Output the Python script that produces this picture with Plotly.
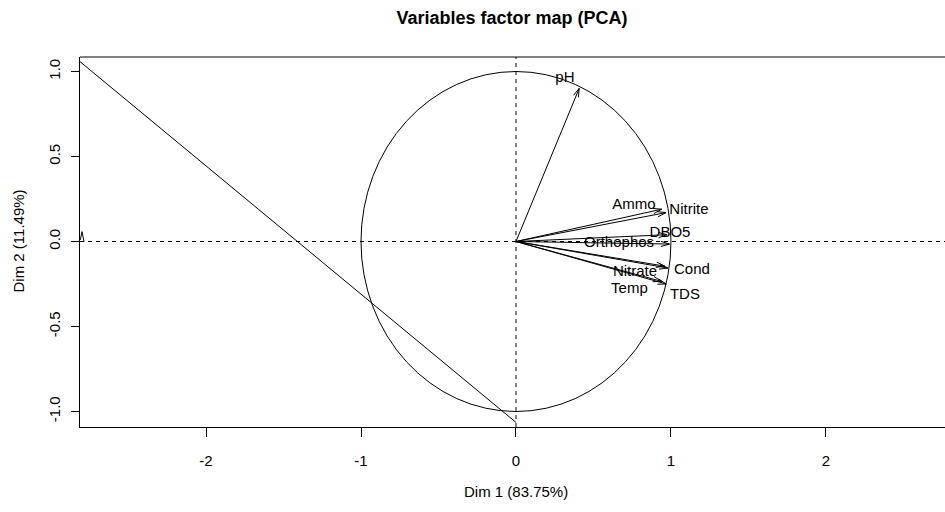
import numpy as np
import plotly.graph_objects as go

# ---- data ----
variables = ["pH", "Ammo", "Nitrite", "DBO5", "Orthophos", "Nitrate", "Cond", "Temp", "TDS"]
dim1 = [0.408, 0.940, 0.968, 0.975, 0.990, 0.960, 0.980, 0.940, 0.970]
dim2 = [0.901, 0.190, 0.170, 0.040, -0.015, -0.145, -0.156, -0.235, -0.250]
label_x = [0.316, 0.761, 1.116, 0.994, 0.665, 0.768, 1.135, 0.732, 1.090]
label_y = [0.962, 0.215, 0.181, 0.048, -0.010, -0.183, -0.168, -0.281, -0.315]
diag_x = [-2.813, 0.0]
diag_y = [1.058, -1.064]
caret_x = [-2.811, -2.800, -2.787]
caret_y = [0.009, 0.058, -0.001]
x_ticks = [-2, -1, 0, 1, 2]
y_ticks = [-1.0, -0.5, 0.0, 0.5, 1.0]
y_tick_text = ["-1.0", "-0.5", "0.0", "0.5", "1.0"]

x_range = [-2.813, 2.768]
y_range = [-1.0912, 1.0853]

W, H = 945, 512
ml, mr, mt, mb = 80, 0, 57, 85
px_x = (W - ml - mr) / (x_range[1] - x_range[0])
px_y = (H - mt - mb) / (y_range[1] - y_range[0])

FONT = "Liberation Sans, Arial, sans-serif"
fig = go.Figure()

# diagonal artefact line and small caret
fig.add_trace(go.Scatter(x=diag_x, y=diag_y, mode="lines",
                         line=dict(color="black", width=1), hoverinfo="skip"))
fig.add_trace(go.Scatter(x=caret_x, y=caret_y, mode="lines",
                         line=dict(color="black", width=1), hoverinfo="skip"))

# arrows: shafts and open heads
hl, ang = 9.0, np.deg2rad(17)
ax_all, ay_all = [], []
for x, y in zip(dim1, dim2):
    ax_all += [0, x, None]
    ay_all += [0, y, None]
    dx, dy = x * px_x, y * px_y
    L = np.hypot(dx, dy)
    ux, uy = dx / L, dy / L
    for s in (1, -1):
        c, sn = np.cos(s * ang), np.sin(s * ang)
        rx = ux * c - uy * sn
        ry = ux * sn + uy * c
        hx = x - rx * hl / px_x
        hy = y - ry * hl / px_y
        ax_all += [x, hx, None]
        ay_all += [y, hy, None]
fig.add_trace(go.Scatter(x=ax_all, y=ay_all, mode="lines",
                         line=dict(color="black", width=1), hoverinfo="skip"))

# labels
fig.add_trace(go.Scatter(x=label_x, y=label_y, mode="text", text=variables,
                         textposition="middle center",
                         textfont=dict(family=FONT, size=15, color="black"),
                         hoverinfo="skip"))

shapes = [
    dict(type="circle", xref="x", yref="y", x0=-1, x1=1, y0=-1, y1=1,
         line=dict(color="black", width=1)),
    dict(type="line", xref="x", yref="paper", x0=0, x1=0, y0=0, y1=1,
         line=dict(color="black", width=1, dash="4px,4px")),
    dict(type="line", xref="paper", yref="y", x0=0, x1=1, y0=0, y1=0,
         line=dict(color="black", width=1, dash="4px,4px")),
    dict(type="line", xref="paper", yref="paper", x0=0, x1=1, y0=1, y1=1,
         line=dict(color="black", width=1)),
]

annotations = [
    dict(text="Dim 1 (83.75%)", xref="x", x=0, yref="paper", y=0,
         yanchor="middle", yshift=-64, showarrow=False,
         font=dict(family=FONT, size=15, color="black")),
    dict(text="Dim 2 (11.49%)", xref="paper", x=0, xshift=-62, yref="y", y=0,
         xanchor="center", textangle=-90, showarrow=False,
         font=dict(family=FONT, size=15, color="black")),
]

fig.update_layout(
    width=W, height=H,
    margin=dict(l=ml, r=mr, t=mt, b=mb),
    paper_bgcolor="white", plot_bgcolor="white",
    showlegend=False,
    title=dict(text="<b>Variables factor map (PCA)</b>", x=512 / W, y=1 - 18 / H,
               xanchor="center", yanchor="middle",
               font=dict(family=FONT, size=18, color="black")),
    shapes=shapes, annotations=annotations,
    xaxis=dict(range=x_range, tickvals=x_ticks, ticktext=[str(t) for t in x_ticks],
               showgrid=False, zeroline=False, showline=True, linecolor="black",
               linewidth=1, ticks="outside", ticklen=9, tickcolor="black",
               ticklabelstandoff=11,
               tickfont=dict(family=FONT, size=15, color="black")),
    yaxis=dict(range=y_range, tickvals=y_ticks, ticktext=y_tick_text,
               showgrid=False, zeroline=False, showline=True, linecolor="black",
               linewidth=1, ticks="outside", ticklen=8, tickcolor="black",
               tickangle=-90, ticklabelstandoff=5,
               tickfont=dict(family=FONT, size=15, color="black")),
)

fig.write_html("out.html", config={"displayModeBar": False},
               post_script="document.body.style.margin='0';document.body.style.overflow='hidden';")
